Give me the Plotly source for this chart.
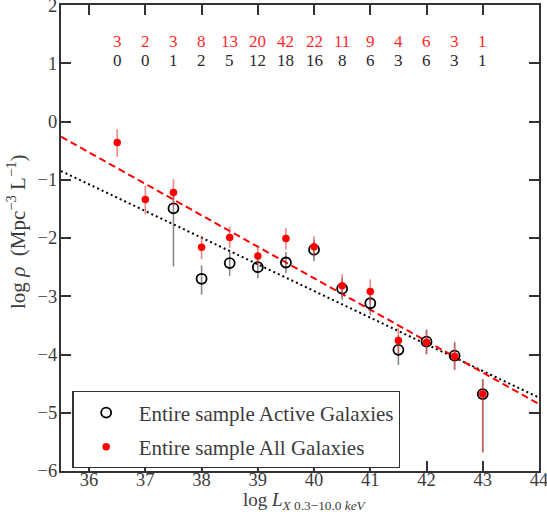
import plotly.graph_objects as go

# ---- data ----
bins = [36.5, 37.0, 37.5, 38.0, 38.5, 39.0, 39.5, 40.0, 40.5, 41.0, 41.5, 42.0, 42.5, 43.0]
n_all = [3, 2, 3, 8, 13, 20, 42, 22, 11, 9, 4, 6, 3, 1]
n_active = [0, 0, 1, 2, 5, 12, 18, 16, 8, 6, 3, 6, 3, 1]

all_y = [-0.36, -1.34, -1.22, -2.16, -1.99, -2.31, -2.01, -2.15, -2.82, -2.92, -3.76, -3.79, -4.03, -4.68]
all_err_up = [0.23, 0.24, 0.23, 0.20, 0.18, 0.16, 0.18, 0.18, 0.20, 0.21, 0.22, 0.21, 0.23, 0.26]
all_err_dn = [0.25, 0.26, 0.23, 0.20, 0.18, 0.16, 0.19, 0.18, 0.20, 0.21, 0.22, 0.21, 0.24, 1.00]

act_x = [37.5, 38.0, 38.5, 39.0, 39.5, 40.0, 40.5, 41.0, 41.5, 42.0, 42.5, 43.0]
act_y = [-1.49, -2.70, -2.43, -2.50, -2.42, -2.20, -2.87, -3.12, -3.92, -3.78, -4.02, -4.68]
act_err_up = [0.28, 0.23, 0.20, 0.17, 0.18, 0.17, 0.18, 0.20, 0.25, 0.21, 0.24, 0.26]
act_err_dn = [1.00, 0.27, 0.22, 0.19, 0.18, 0.20, 0.19, 0.20, 0.26, 0.21, 0.24, 1.00]

fit_x = [35.5, 44.0]
fit_all_y = [-0.26, -4.85]
fit_act_y = [-0.85, -4.74]

count_all_level = 1.37
count_act_level = 1.055

SERIF = "Liberation Serif"
AX = "#333333"
TXT = "#3c3c3c"

fig = go.Figure()

fig.add_trace(go.Scatter(x=fit_x, y=fit_act_y, mode="lines", showlegend=False,
                         line=dict(color="black", width=2, dash="2px,3px")))
fig.add_trace(go.Scatter(x=fit_x, y=fit_all_y, mode="lines", showlegend=False,
                         line=dict(color="red", width=2, dash="7px,4px")))

fig.add_trace(go.Scatter(
    x=act_x, y=act_y, mode="markers", name="Entire sample Active Galaxies",
    legendgroup="a",
    marker=dict(symbol="circle-open", size=10, color="black", line=dict(width=1.8, color="black")),
    error_y=dict(type="data", symmetric=False, array=act_err_up, arrayminus=act_err_dn,
                 color="rgba(60,60,60,0.6)", thickness=1.6, width=0)))

fig.add_trace(go.Scatter(
    x=bins, y=all_y, mode="markers", name="Entire sample All Galaxies",
    legendgroup="b",
    marker=dict(symbol="circle", size=7.5, color="red"),
    error_y=dict(type="data", symmetric=False, array=all_err_up, arrayminus=all_err_dn,
                 color="rgba(235,70,70,0.65)", thickness=1.6, width=0)))

for x, na, nb in zip(bins, n_all, n_active):
    fig.add_annotation(x=x, y=count_all_level, text=str(na), showarrow=False,
                       font=dict(family=SERIF, size=17, color="#ff2a2a"))
    fig.add_annotation(x=x, y=count_act_level, text=str(nb), showarrow=False,
                       font=dict(family=SERIF, size=17, color="#2a2a2a"))

# axis titles
fig.add_annotation(xref="paper", yref="paper", x=0.51, y=-0.034, xanchor="center", yanchor="top",
                   text="log <i>L</i><sub><i>X</i> 0.3−10.0 <i>keV</i></sub>", showarrow=False,
                   font=dict(family=SERIF, size=19, color=TXT))
fig.add_annotation(xref="paper", yref="paper", x=-0.092, y=0.513, xanchor="center", yanchor="middle",
                   textangle=-90,
                   text="log <i>ρ</i>  (Mpc<sup>−3</sup> L<sup>−1</sup>)", showarrow=False,
                   font=dict(family=SERIF, size=21, color=TXT))

axis_common = dict(showgrid=False, zeroline=False, showline=True, linecolor=AX, linewidth=2,
                   mirror="allticks", ticks="inside", ticklen=10, tickwidth=2, tickcolor=AX,
                   automargin=False, ticklabeloverflow="allow",
                   tickfont=dict(family=SERIF, size=18.5, color=TXT))

fig.update_xaxes(range=[35.5, 44.0005], dtick=1, tick0=36, ticklabelstandoff=-9, **axis_common)
fig.update_yaxes(range=[-6, 2.0005], dtick=1, tick0=0, ticklabelstandoff=-2, **axis_common)

fig.update_layout(
    width=547, height=521,
    margin=dict(l=61, r=8, t=5, b=50),
    plot_bgcolor="white", paper_bgcolor="white",
    showlegend=True,
    legend=dict(x=0.024, y=0.006, xanchor="left", yanchor="bottom",
                bgcolor="white", bordercolor="#333333", borderwidth=1.2,
                font=dict(family=SERIF, size=21, color=TXT),
                tracegroupgap=4, itemwidth=55),
)

fig.write_html("out.html", config={"displayModeBar": False},
               post_script="document.body.style.margin='0px';")
